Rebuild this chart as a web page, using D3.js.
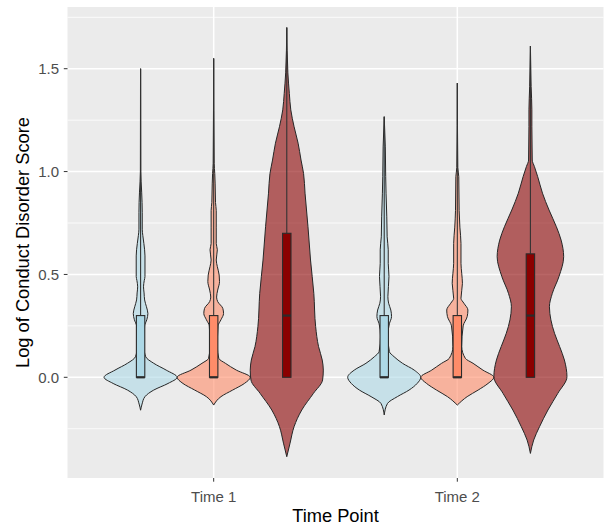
<!DOCTYPE html>
<html>
<head>
<meta charset="utf-8">
<script src="https://cdn.jsdelivr.net/npm/d3@7"></script>
<style>
  body { margin: 0; background: #fff; }
  svg { display: block; font-family: "Liberation Sans", Arial, sans-serif; }
</style>
</head>
<body>
<div id="chart"></div>
<script>
// Datos
const timePoints = ["Time 1", "Time 2"];
const groups = ["A", "B", "C"];
const yTicks = [0, 0.5, 1, 1.5];
const yMinorTicks = [-0.25, 0.25, 0.75, 1.25, 1.75];

// Perfiles de densidad [valor, anchura relativa] para cada violín
const violinT1A = [[-0.16,0],[-0.13,0.04],[-0.094,0.12],[-0.062,0.36],[-0.03,0.75],[0,1],[0.035,0.7],[0.068,0.36],[0.1,0.14],[0.15,0.09],[0.25,0.11],[0.28,0.17],[0.31,0.2],[0.343,0.16],[0.376,0.11],[0.41,0.095],[0.44,0.08],[0.47,0.1],[0.49,0.12],[0.59,0.12],[0.65,0.09],[0.69,0.06],[0.72,0.045],[0.8,0.045],[0.9,0.03],[0.95,0.015],[1.0,0.006],[1.5,0.002]];
const violinT1B = [[-0.135,0],[-0.094,0.2],[-0.062,0.52],[-0.03,0.84],[0,1],[0.035,0.62],[0.068,0.32],[0.092,0.14],[0.15,0.1],[0.25,0.12],[0.28,0.2],[0.31,0.27],[0.335,0.25],[0.368,0.11],[0.39,0.08],[0.424,0.11],[0.465,0.16],[0.497,0.15],[0.538,0.1],[0.57,0.07],[0.62,0.1],[0.65,0.07],[0.73,0.07],[0.81,0.07],[0.85,0.05],[0.94,0.04],[0.99,0.03],[1.04,0.014],[1.55,0.002]];
const violinT1C = [[-0.386,0],[-0.32,0.09],[-0.24,0.2],[-0.159,0.41],[-0.078,0.73],[-0.013,0.98],[0.035,1],[0.084,0.97],[0.149,0.87],[0.246,0.79],[0.408,0.74],[0.57,0.65],[0.732,0.58],[0.895,0.5],[0.99,0.46],[1.056,0.39],[1.138,0.31],[1.218,0.2],[1.3,0.11],[1.38,0.07],[1.48,0.03],[1.7,0]];
const violinT2A = [[-0.183,0],[-0.127,0.09],[-0.094,0.36],[-0.062,0.68],[-0.03,0.9],[0,1],[0.035,0.82],[0.068,0.5],[0.1,0.27],[0.125,0.14],[0.2,0.1],[0.26,0.14],[0.295,0.2],[0.327,0.18],[0.36,0.12],[0.392,0.1],[0.49,0.13],[0.554,0.11],[0.62,0.11],[0.683,0.08],[0.78,0.07],[0.895,0.05],[0.975,0.04],[1.12,0.03],[1.267,0]];
const violinT2B = [[-0.135,0],[-0.094,0.27],[-0.062,0.57],[-0.03,0.84],[0,1],[0.035,0.7],[0.068,0.43],[0.092,0.22],[0.15,0.12],[0.25,0.16],[0.295,0.27],[0.327,0.29],[0.36,0.18],[0.384,0.1],[0.457,0.14],[0.506,0.12],[0.554,0.1],[0.651,0.1],[0.73,0.07],[0.81,0.05],[0.975,0.04],[1.02,0.014],[1.43,0]];
const violinT2C = [[-0.37,0],[-0.305,0.09],[-0.24,0.25],[-0.159,0.48],[-0.078,0.75],[0.003,1],[0.084,0.93],[0.149,0.8],[0.214,0.66],[0.279,0.56],[0.343,0.52],[0.408,0.6],[0.489,0.78],[0.586,0.91],[0.667,0.84],[0.732,0.71],[0.813,0.51],[0.895,0.33],[0.975,0.2],[1.024,0.11],[1.056,0.05],[1.218,0.04],[1.3,0.04],[1.413,0.02],[1.61,0]];

// Estadísticos de caja [mín, Q1, mediana, Q3, máx]
const boxT1 = [[0, 0, 0, 0.3, 1.5], [0, 0, 0, 0.3, 1.55], [0, 0, 0.3, 0.7, 1.7]];
const boxT2 = [[0, 0, 0, 0.3, 1.267], [0, 0, 0, 0.3, 1.43], [0, 0, 0.3, 0.6, 1.61]];

const violins = [[violinT1A, violinT1B, violinT1C], [violinT2A, violinT2B, violinT2C]];
const boxes = [boxT1, boxT2];

const fills = { A: "#ADD8E6", B: "#FF8C69", C: "#8B0000" };

// Dimensiones
const width = 609, height = 529;
const panel = { left: 67.5, right: 603.5, top: 7, bottom: 478 };

const svg = d3.select("#chart").append("svg")
  .attr("width", width)
  .attr("height", height);

const x = d3.scalePoint()
  .domain(timePoints)
  .range([panel.left, panel.right])
  .padding(0.6);

const dodge = d3.scaleBand()
  .domain(groups)
  .range([-0.45 * x.step(), 0.45 * x.step()]);

const y = d3.scaleLinear()
  .domain([-0.4895, 1.80])
  .range([panel.bottom, panel.top]);

const halfW = dodge.bandwidth() / 2;
const boxW = dodge.bandwidth() * 0.115;

// Fondo del panel
svg.append("rect")
  .attr("x", panel.left).attr("y", panel.top)
  .attr("width", panel.right - panel.left)
  .attr("height", panel.bottom - panel.top)
  .attr("fill", "#EBEBEB");

// Rejilla
svg.selectAll(".minor")
  .data(yMinorTicks)
  .enter().append("line")
  .attr("x1", panel.left).attr("x2", panel.right)
  .attr("y1", d => y(d)).attr("y2", d => y(d))
  .attr("stroke", "#fff").attr("stroke-width", 0.8);

svg.selectAll(".major-y")
  .data(yTicks)
  .enter().append("line")
  .attr("x1", panel.left).attr("x2", panel.right)
  .attr("y1", d => y(d)).attr("y2", d => y(d))
  .attr("stroke", "#fff").attr("stroke-width", 1.5);

svg.selectAll(".major-x")
  .data(timePoints)
  .enter().append("line")
  .attr("x1", d => x(d)).attr("x2", d => x(d))
  .attr("y1", panel.top).attr("y2", panel.bottom)
  .attr("stroke", "#fff").attr("stroke-width", 1.5);

// Violines
timePoints.forEach((t, i) => {
  groups.forEach((g, j) => {
    const cx = x(t) + dodge(g) + halfW;
    const area = d3.area()
      .curve(d3.curveMonotoneY)
      .y(d => y(d[0]))
      .x0(d => cx - d[1] * halfW)
      .x1(d => cx + d[1] * halfW);
    svg.append("path")
      .datum(violins[i][j])
      .attr("d", area)
      .attr("fill", fills[g])
      .attr("fill-opacity", 0.6)
      .attr("stroke", "#262626")
      .attr("stroke-width", 1);
  });
});

// Cajas
timePoints.forEach((t, i) => {
  groups.forEach((g, j) => {
    const cx = x(t) + dodge(g) + halfW;
    const [lo, q1, med, q3, hi] = boxes[i][j];
    svg.append("line")
      .attr("x1", cx).attr("x2", cx)
      .attr("y1", y(q3)).attr("y2", y(hi))
      .attr("stroke", "#333").attr("stroke-width", 1.1);
    svg.append("line")
      .attr("x1", cx).attr("x2", cx)
      .attr("y1", y(q1)).attr("y2", y(lo))
      .attr("stroke", "#333").attr("stroke-width", 1.1);
    svg.append("rect")
      .attr("x", cx - boxW / 2)
      .attr("y", y(q3))
      .attr("width", boxW)
      .attr("height", y(q1) - y(q3))
      .attr("fill", fills[g])
      .attr("stroke", "#2b2b2b")
      .attr("stroke-width", 1.1);
    svg.append("line")
      .attr("x1", cx - boxW / 2).attr("x2", cx + boxW / 2)
      .attr("y1", y(med)).attr("y2", y(med))
      .attr("stroke", "#2b2b2b").attr("stroke-width", 2.2);
  });
});

// Ejes
const yAxis = svg.append("g");
yAxis.selectAll("line")
  .data(yTicks)
  .enter().append("line")
  .attr("x1", panel.left - 3.7).attr("x2", panel.left)
  .attr("y1", d => y(d)).attr("y2", d => y(d))
  .attr("stroke", "#333").attr("stroke-width", 1);
yAxis.selectAll("text")
  .data(yTicks)
  .enter().append("text")
  .attr("x", panel.left - 8.5)
  .attr("y", d => y(d))
  .attr("dy", "0.36em")
  .attr("text-anchor", "end")
  .attr("fill", "#4D4D4D")
  .attr("font-size", 15)
  .text(d3.format(".1f"));

const xAxis = svg.append("g");
xAxis.selectAll("line")
  .data(timePoints)
  .enter().append("line")
  .attr("x1", d => x(d)).attr("x2", d => x(d))
  .attr("y1", panel.bottom).attr("y2", panel.bottom + 3.7)
  .attr("stroke", "#333").attr("stroke-width", 1);
xAxis.selectAll("text")
  .data(timePoints)
  .enter().append("text")
  .attr("x", d => x(d))
  .attr("y", 501.5)
  .attr("text-anchor", "middle")
  .attr("fill", "#4D4D4D")
  .attr("font-size", 15)
  .text(d => d);

// Títulos
svg.append("text")
  .attr("x", (panel.left + panel.right) / 2)
  .attr("y", 522)
  .attr("text-anchor", "middle")
  .attr("font-size", 18.3)
  .attr("fill", "#000")
  .text("Time Point");

svg.append("text")
  .attr("transform", `translate(28.8,${(panel.top + panel.bottom) / 2}) rotate(-90)`)
  .attr("text-anchor", "middle")
  .attr("font-size", 18.3)
  .attr("fill", "#000")
  .text("Log of Conduct Disorder Score");
</script>
</body>
</html>
